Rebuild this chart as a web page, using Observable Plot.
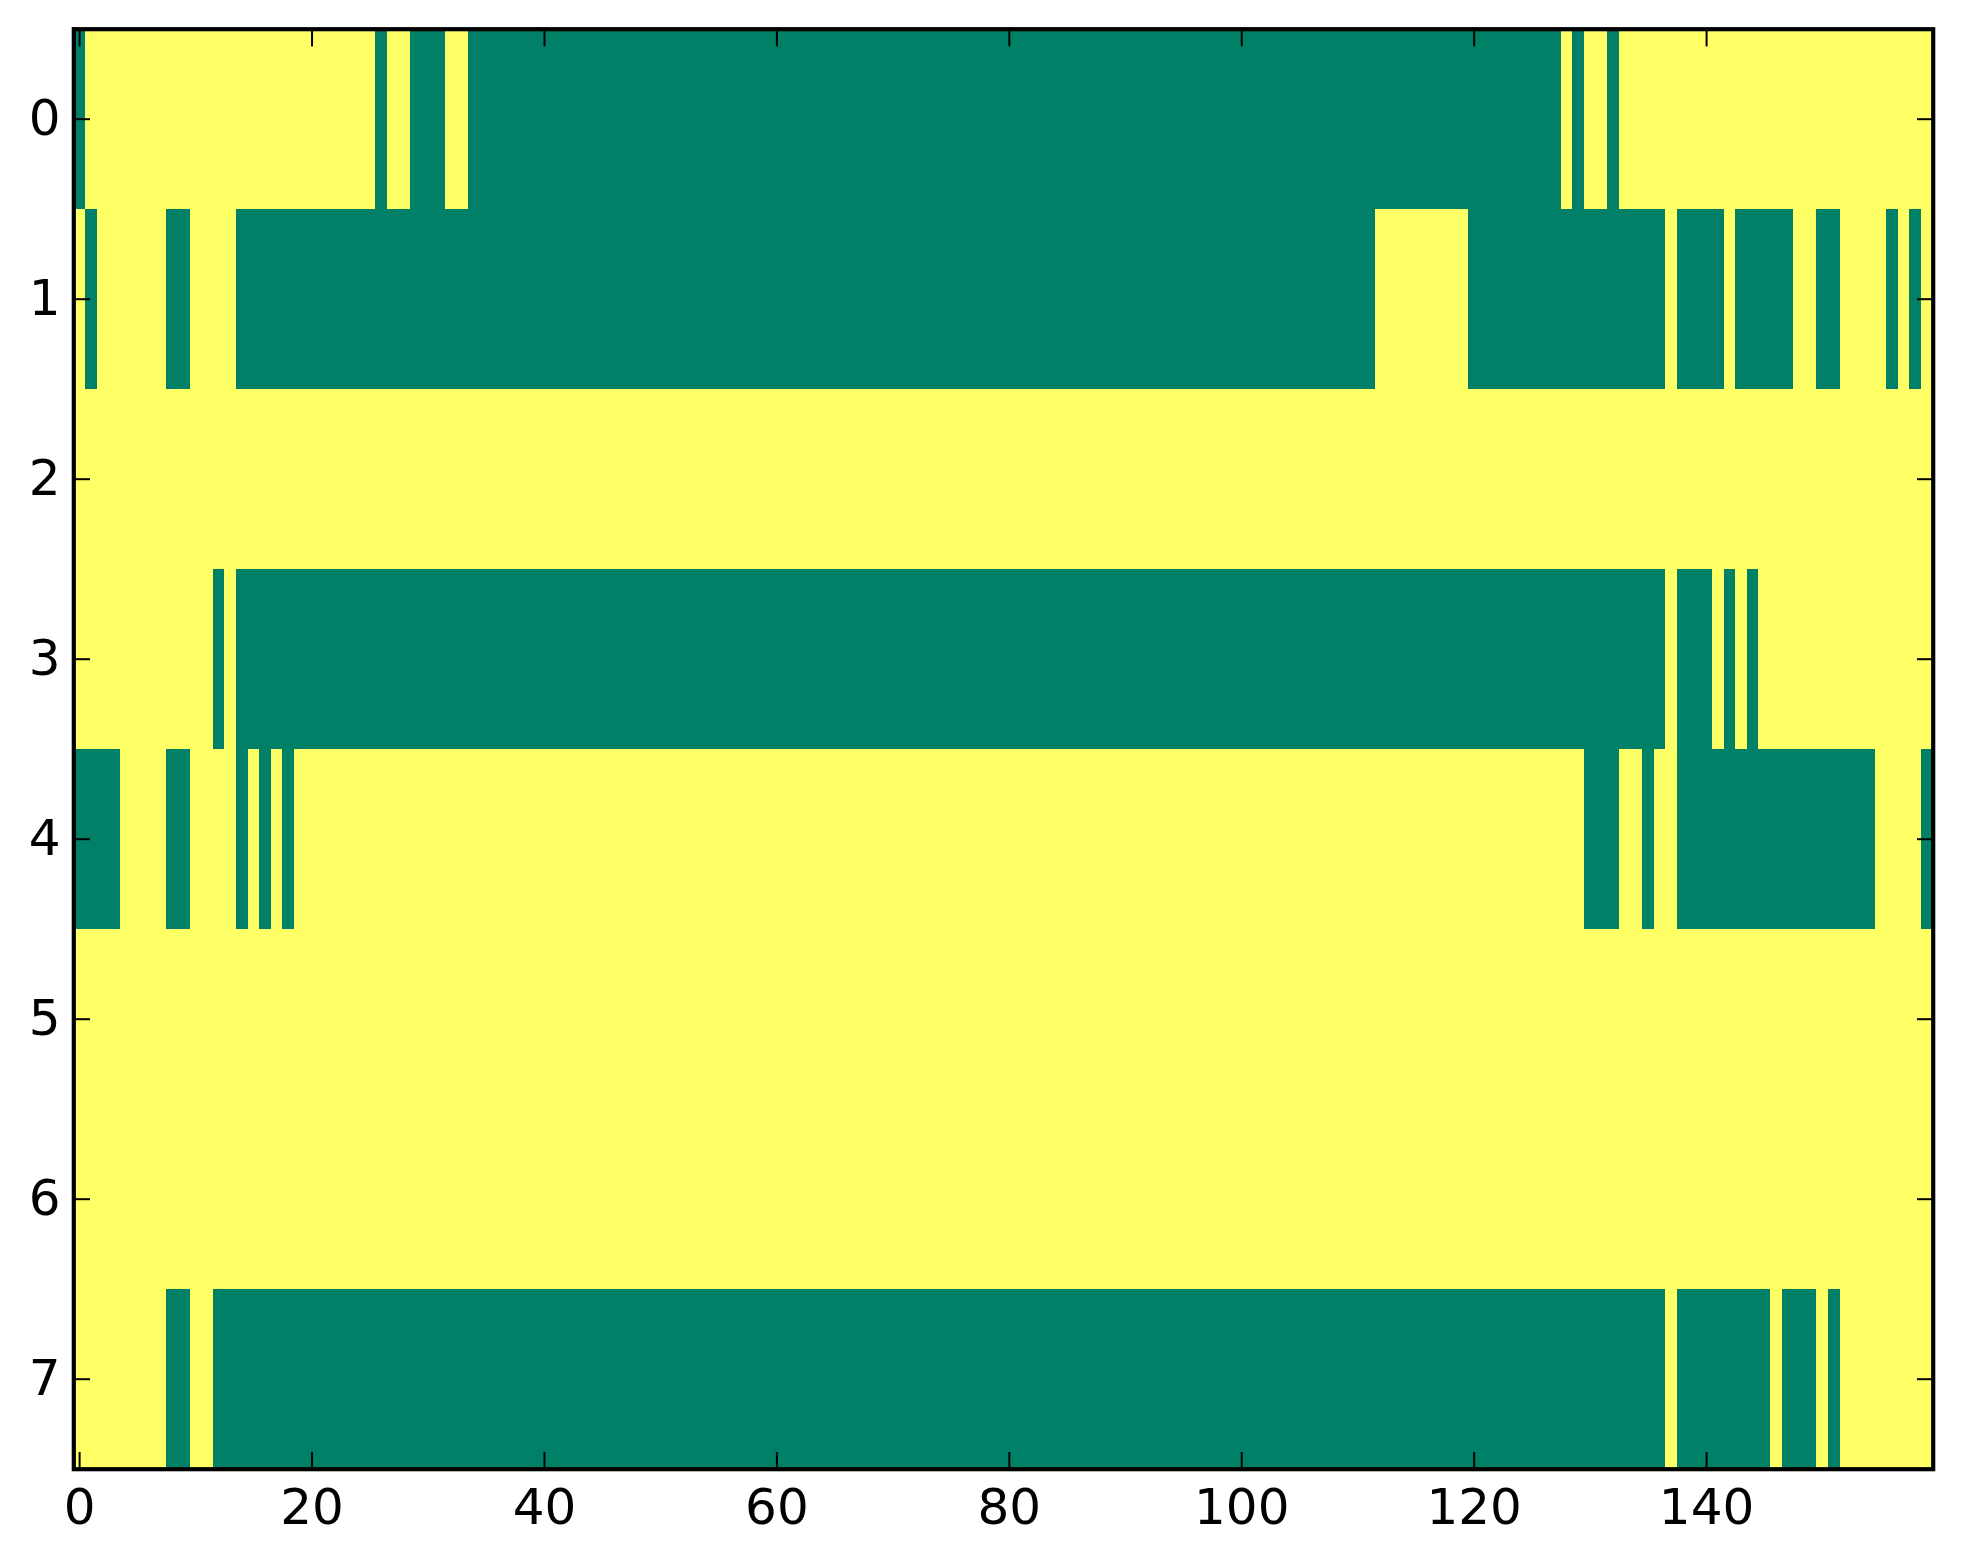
<!DOCTYPE html>
<html><head><meta charset="utf-8">
<script src="https://cdn.jsdelivr.net/npm/d3@7"></script>
<script src="https://cdn.jsdelivr.net/npm/@observablehq/plot@0.6"></script>
<style>body{margin:0;background:#fff}</style>
</head><body><div id="chart"></div>
<script>
const nCols = 160;
const rowLabels = [0, 1, 2, 3, 4, 5, 6, 7];
const xTicks = [0, 20, 40, 60, 80, 100, 120, 140];
// green (value 0) runs per row, inclusive column ranges; everything else is yellow (value 1)
const greenRuns0 = [[0,0],[26,26],[29,31],[34,127],[129,129],[132,132]];
const greenRuns1 = [[1,1],[8,9],[14,111],[120,136],[138,141],[143,147],[150,151],[156,156],[158,158]];
const greenRuns2 = [];
const greenRuns3 = [[12,12],[14,136],[138,140],[142,142],[144,144]];
const greenRuns4 = [[0,3],[8,9],[14,14],[16,16],[18,18],[130,132],[135,135],[138,154],[159,159]];
const greenRuns5 = [];
const greenRuns6 = [];
const greenRuns7 = [[8,9],[12,136],[138,145],[147,149],[151,151]];
const greenRuns = [greenRuns0, greenRuns1, greenRuns2, greenRuns3, greenRuns4, greenRuns5, greenRuns6, greenRuns7];

const cells = [];
rowLabels.forEach((r) => {
  for (let c = 0; c < nCols; c++) {
    const g = greenRuns[r].some(([a, b]) => c >= a && c <= b);
    cells.push({col: c, row: r, value: g ? 0 : 1});
  }
});

const chart = Plot.plot({
  width: 1963, height: 1564,
  marginLeft: 73.3, marginRight: 30.3, marginTop: 28.7, marginBottom: 95.3,
  style: {fontFamily: "'DejaVu Sans'", fontSize: "50px", color: "black", background: "white"},
  x: {type: "band", domain: d3.range(nCols), padding: 0, round: false, label: null},
  y: {type: "band", domain: rowLabels, padding: 0, round: false, label: null},
  color: {type: "ordinal", domain: [0, 1], range: ["#008066", "#ffff66"]},
  marks: [
    Plot.cell(cells, {x: "col", y: "row", fill: "value", inset: 0, shapeRendering: "crispEdges"}),
    Plot.axisX({ticks: xTicks, anchor: "bottom", tickSize: -16.7, tickPadding: 36, strokeWidth: 2}),
    Plot.axisX({ticks: xTicks, anchor: "top", tickSize: -16.7, tickFormat: () => "", strokeWidth: 2}),
    Plot.axisY({ticks: rowLabels, anchor: "left", tickSize: -16.7, tickPadding: 30, strokeWidth: 2}),
    Plot.axisY({ticks: rowLabels, anchor: "right", tickSize: -16.7, tickFormat: () => "", strokeWidth: 2}),
    Plot.frame({stroke: "black", strokeWidth: 4.2})
  ]
});
document.getElementById("chart").appendChild(chart);
</script>
</body></html>
